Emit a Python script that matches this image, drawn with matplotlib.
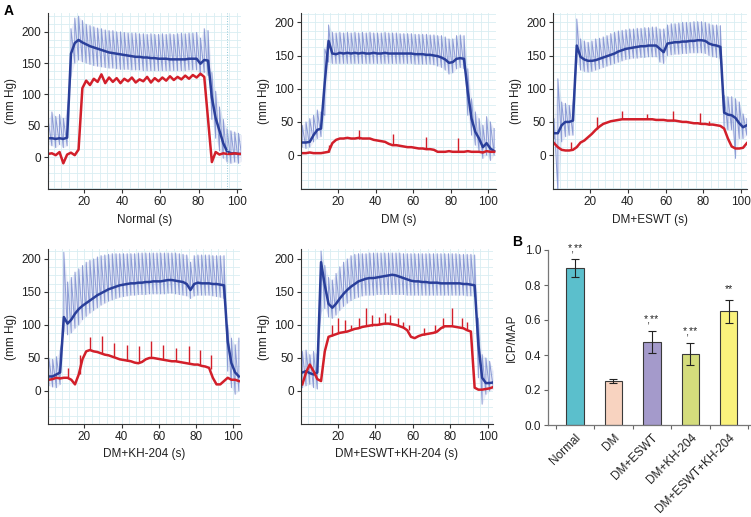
import numpy as np
import matplotlib
matplotlib.use("Agg")
import matplotlib.pyplot as plt
from matplotlib.ticker import MultipleLocator

plt.rcParams['font.family'] = ['Liberation Sans', 'DejaVu Sans']
plt.rcParams['font.size'] = 8.5

# ---------------- data ----------------
T = [1, 3, 5, 7, 9, 11, 13, 15, 17, 19, 21, 23, 25, 27, 29, 31, 33, 35, 37, 39,
     41, 43, 45, 47, 49, 51, 53, 55, 57, 59, 61, 63, 65, 67, 69, 71, 73, 75, 77, 79,
     81, 83, 85, 87, 89, 91, 93, 95, 97, 99, 101, 103]

# Normal
normal_map = [30, 30, 29, 30, 29, 31, 165, 182, 187, 183, 180, 177, 175, 173, 171, 169, 167, 166, 165, 164,
              163, 162, 161, 160, 160, 159, 159, 158, 158, 157, 157, 157, 156, 156, 156, 156, 156, 157, 157, 157,
              149, 155, 154, 95, 62, 42, 22, 9, 6, 6, 5, 5]
normal_hi = [60, 72, 65, 68, 62, 72, 205, 222, 225, 218, 212, 210, 208, 206, 205, 203, 202, 202, 200, 200,
             199, 198, 198, 198, 197, 197, 196, 197, 196, 196, 197, 196, 197, 196, 197, 198, 197, 198, 198, 199,
             190, 205, 202, 135, 105, 80, 60, 45, 42, 40, 38, 35]
normal_lo = [20, 18, 15, 20, 15, 18, 130, 150, 155, 152, 150, 148, 146, 145, 144, 143, 142, 142, 141, 140,
             140, 140, 139, 139, 139, 138, 138, 138, 138, 138, 138, 138, 138, 138, 138, 138, 138, 139, 139, 139,
             130, 135, 130, 60, 30, 10, -2, -8, -10, -8, -10, -5]
normal_icp = [5, 6, 3, 8, -10, 4, 7, 3, 12, 110, 122, 115, 125, 120, 132, 118, 127, 120, 126, 118,
              125, 121, 127, 119, 124, 121, 128, 119, 126, 121, 127, 122, 129, 123, 128, 124, 130, 125, 131, 127,
              133, 128, 60, -8, 8, 4, 6, 5, 5, 6, 5, 5]
normal_spk_t, normal_spk_top, normal_spk_base = [], [], []

# DM
dm_map = [19, 19, 20, 30, 38, 40, 110, 172, 153, 152, 154, 153, 154, 153, 154, 153, 154, 153, 153, 154,
          153, 153, 154, 153, 153, 153, 153, 153, 153, 153, 152, 152, 152, 151, 151, 150, 149, 147, 144, 139,
          140, 145, 146, 145, 95, 55, 35, 25, 12, 18, 10, 6]
dm_hi = [45, 50, 55, 60, 68, 65, 160, 196, 185, 184, 185, 184, 185, 184, 185, 184, 185, 184, 185, 184,
         184, 184, 185, 184, 184, 184, 183, 183, 183, 183, 182, 182, 182, 182, 181, 181, 180, 180, 178, 175,
         175, 180, 181, 180, 130, 85, 65, 55, 45, 58, 50, 40]
dm_lo = [12, 10, 12, 20, 25, 28, 60, 140, 138, 138, 138, 138, 138, 138, 138, 138, 138, 138, 138, 138,
         138, 138, 138, 138, 138, 138, 138, 138, 138, 138, 137, 137, 137, 137, 137, 136, 134, 132, 128, 122,
         124, 130, 132, 130, 60, 30, 15, 5, -5, 0, -8, 0]
dm_icp = [3, 3, 4, 3, 3, 3, 4, 5, 18, 23, 25, 25, 26, 25, 25, 26, 25, 25, 25, 23,
          22, 21, 20, 17, 15, 15, 14, 13, 12, 12, 11, 10, 10, 9, 9, 8, 5, 5, 5, 6,
          5, 5, 5, 5, 6, 5, 5, 5, 4, 6, 5, 5]
dm_spk_t = [15, 31, 49, 67, 84]
dm_spk_top = [15, 38, 32, 28, 26]
dm_spk_base = [4, 25, 15, 9, 5]

# DM+ESWT
eswt_map = [33, 33, 45, 50, 50, 52, 165, 148, 144, 142, 142, 143, 145, 147, 149, 151, 153, 156, 158, 160,
            161, 162, 163, 164, 164, 165, 165, 165, 160, 155, 168, 169, 170, 170, 171, 171, 172, 172, 173, 173,
            172, 168, 166, 165, 163, 64, 61, 60, 56, 48, 42, 45]
eswt_hi = [55, 115, 80, 78, 75, 77, 205, 175, 172, 170, 172, 175, 176, 178, 180, 183, 185, 187, 188, 189,
           190, 190, 191, 191, 192, 192, 193, 193, 190, 190, 196, 198, 198, 199, 200, 200, 200, 201, 201, 201,
           200, 198, 196, 196, 195, 90, 88, 88, 85, 80, 62, 55]
eswt_lo = [25, -55, 20, 28, 30, 30, 140, 128, 126, 125, 126, 128, 130, 132, 134, 136, 138, 140, 142, 144,
           145, 146, 146, 147, 147, 148, 148, 148, 140, 138, 150, 151, 152, 152, 153, 153, 154, 154, 154, 154,
           153, 150, 148, 147, 145, 40, 38, 38, -5, 25, 25, 30]
eswt_icp = [18, 12, 8, 7, 7, 8, 12, 19, 22, 27, 32, 38, 43, 47, 49, 51, 52, 53, 54, 54,
            54, 54, 54, 54, 54, 54, 54, 53, 53, 53, 52, 52, 52, 51, 50, 50, 49, 48, 48, 47,
            47, 46, 46, 45, 44, 40, 25, 13, 10, 10, 11, 18]
eswt_spk_t = [10, 23.5, 37, 50, 64, 78, 83]
eswt_spk_top = [20, 58, 67, 62, 66, 63, 52]
eswt_spk_base = [8, 40, 54, 54, 52, 47, 46]

# DM+KH-204
kh_map = [22, 22, 25, 28, 112, 102, 108, 117, 124, 129, 133, 137, 141, 145, 148, 151, 154, 156, 158, 160,
          161, 162, 163, 163, 164, 164, 165, 165, 166, 166, 166, 167, 168, 168, 167, 166, 165, 162, 153, 162,
          164, 163, 163, 163, 162, 162, 161, 160, 75, 42, 28, 22]
kh_hi = [50, 48, 52, 60, 210, 165, 172, 180, 185, 190, 195, 198, 200, 203, 205, 206, 207, 208, 208, 208,
         208, 208, 208, 208, 209, 209, 209, 209, 209, 209, 209, 209, 209, 209, 209, 208, 207, 206, 195, 205,
         206, 206, 206, 206, 205, 205, 205, 205, 100, 80, 70, 80]
kh_lo = [8, 6, 5, 10, 90, 85, 88, 95, 100, 108, 113, 118, 122, 126, 130, 133, 136, 138, 140, 142,
         143, 144, 145, 145, 146, 146, 146, 147, 147, 147, 147, 147, 148, 148, 147, 146, 145, 144, 140, 144,
         145, 145, 145, 145, 144, 143, 142, 140, 30, 5, -5, 0]
kh_icp = [17, 18, 20, 19, 20, 20, 17, 10, 25, 48, 60, 62, 60, 59, 57, 55, 54, 52, 50, 48,
          47, 46, 45, 43, 42, 44, 48, 50, 50, 49, 48, 47, 46, 45, 45, 44, 43, 42, 41, 40,
          40, 38, 37, 35, 20, 10, 10, 15, 20, 17, 17, 15]
kh_spk_t = [11, 17.5, 23, 29.5, 36, 43, 49.5, 56, 62.5, 69, 76, 82, 88]
kh_spk_top = [35, 55, 82, 83, 72, 70, 68, 75, 70, 65, 68, 62, 55]
kh_spk_base = [20, 25, 62, 57, 51, 46, 43, 50, 48, 45, 42, 40, 34]

# DM+ESWT+KH-204
comb_map = [28, 30, 27, 25, 28, 195, 160, 132, 126, 132, 140, 147, 153, 158, 162, 166, 168, 170, 171, 171,
            172, 173, 174, 175, 176, 175, 173, 171, 169, 167, 166, 166, 165, 165, 164, 164, 164, 163, 163, 163,
            163, 163, 163, 162, 162, 161, 160, 70, 20, 12, 12, 13]
comb_hi = [60, 62, 55, 60, 55, 212, 190, 172, 168, 178, 188, 195, 200, 205, 207, 208, 208, 208, 209, 209,
           209, 209, 209, 209, 209, 209, 209, 208, 208, 208, 208, 208, 208, 208, 208, 208, 208, 208, 208, 208,
           208, 208, 207, 207, 207, 207, 206, 110, 55, 50, 45, 30]
comb_lo = [5, 8, 10, 5, 3, 120, 125, 112, 110, 115, 122, 128, 133, 137, 140, 142, 144, 145, 145, 145,
           146, 146, 146, 146, 146, 146, 146, 146, 145, 145, 145, 145, 145, 145, 145, 145, 145, 145, 145, 145,
           145, 145, 145, 145, 144, 144, 143, 20, -20, -5, 0, 3]
comb_icp = [10, 28, 40, 30, 18, 15, 60, 82, 84, 86, 88, 89, 90, 92, 94, 95, 97, 98, 99, 100,
            100, 101, 102, 102, 101, 100, 98, 96, 92, 82, 80, 83, 85, 86, 87, 88, 90, 95, 98, 98,
            98, 97, 96, 95, 92, 90, 5, 2, 2, 3, 4, 6]
comb_spk_t = [17, 20, 24, 27, 31, 35, 38, 42, 45, 48, 52, 55, 58, 66, 72, 76, 81, 86, 89]
comb_spk_top = [100, 110, 108, 100, 110, 125, 115, 112, 118, 115, 110, 105, 100, 95, 100, 110, 125, 110, 105]
comb_spk_base = [84, 88, 89, 92, 95, 98, 99, 100, 102, 102, 100, 96, 92, 85, 88, 95, 98, 96, 92]

# Panel B
groups = ['Normal', 'DM', 'DM+ESWT', 'DM+KH-204', 'DM+ESWT+KH-204']
ratio = [0.895, 0.252, 0.475, 0.405, 0.650]
ratio_err = [0.052, 0.012, 0.062, 0.064, 0.065]
stars = ['*,**', '', '*,**', '*,**', '**']
bar_colors = ['#5bbfcc', '#f8d3c0', '#a49acb', '#d4dc7c', '#faf27c']

# ---------------- figure ----------------
W, H = 751, 517
fig = plt.figure(figsize=(W / 100, H / 100), dpi=100)


def px_axes(left, top, right, bottom):
    return fig.add_axes([left / W, 1 - bottom / H, (right - left) / W, (bottom - top) / H])


DARK = '#2a3f9a'
LIGHT = '#8393d2'
RED = '#d21f2a'
GRID = '#d9eef2'


def trace_panel(ax, xlabel, mp, hi, lo, icp, st, stop, sbase, xlim, ylim):
    ax.set_xlim(*xlim)
    ax.set_ylim(*ylim)
    ax.xaxis.set_minor_locator(MultipleLocator(4))
    ax.yaxis.set_minor_locator(MultipleLocator(12.5))
    ax.grid(which='both', color=GRID, lw=0.6)
    ax.set_axisbelow(True)
    t = np.array(T, dtype=float)
    hi = np.array(hi, dtype=float)
    lo = np.array(lo, dtype=float)
    ax.fill_between(t, lo, hi, color=LIGHT, alpha=0.15, lw=0)
    zx = np.repeat(t, 2)
    zy = np.column_stack([lo, hi]).ravel()
    ax.plot(zx, zy, color=LIGHT, lw=0.7, alpha=0.9)
    ax.plot(t, mp, color=DARK, lw=1.8)
    if st:
        ax.vlines(st, sbase, stop, color=RED, lw=1.0)
    ax.plot(t, icp, color=RED, lw=1.8)
    ax.set_xticks([20, 40, 60, 80, 100])
    ax.set_yticks([0, 50, 100, 150, 200])
    ax.tick_params(which='minor', length=0)
    ax.tick_params(which='major', length=3, width=0.8, color='#333333', labelcolor='#222222', labelsize=8.5, pad=2)
    for s in ('top', 'right'):
        ax.spines[s].set_visible(False)
    for s in ('left', 'bottom'):
        ax.spines[s].set_color('#333333')
        ax.spines[s].set_linewidth(0.8)
    ax.set_xlabel(xlabel, fontsize=8.5, color='#222222', labelpad=4)
    ax.set_ylabel('(mm Hg)', fontsize=8.5, color='#222222', labelpad=3)


ax1 = px_axes(48, 13, 241, 189)
trace_panel(ax1, 'Normal (s)', normal_map, normal_hi, normal_lo, normal_icp,
            normal_spk_t, normal_spk_top, normal_spk_base, (0.95, 102.3), (-51, 230))
ax1.axvline(95, color='#8fc7d6', lw=0.7, ls=':')

ax2 = px_axes(301, 13, 496, 189)
trace_panel(ax2, 'DM (s)', dm_map, dm_hi, dm_lo, dm_icp,
            dm_spk_t, dm_spk_top, dm_spk_base, (0.35, 104), (-51, 214))

ax3 = px_axes(553, 13, 747, 189)
trace_panel(ax3, 'DM+ESWT (s)', eswt_map, eswt_hi, eswt_lo, eswt_icp,
            eswt_spk_t, eswt_spk_top, eswt_spk_base, (0.43, 103.1), (-51, 214))

ax4 = px_axes(48, 249, 240, 424)
trace_panel(ax4, 'DM+KH-204 (s)', kh_map, kh_hi, kh_lo, kh_icp,
            kh_spk_t, kh_spk_top, kh_spk_base, (0.5, 103.6), (-50, 215))

ax5 = px_axes(301, 249, 493, 424)
trace_panel(ax5, 'DM+ESWT+KH-204 (s)', comb_map, comb_hi, comb_lo, comb_icp,
            comb_spk_t, comb_spk_top, comb_spk_base, (0.3, 102.8), (-50, 215))

# Panel B
axb = px_axes(548, 250, 750, 425)
x = np.arange(len(groups))
axb.bar(x, ratio, width=0.45, color=bar_colors, edgecolor='#3a3a3a', linewidth=0.8,
        yerr=ratio_err, capsize=3, error_kw=dict(elinewidth=0.8, capthick=0.8, ecolor='#222222'))
for xi, v, e, s in zip(x, ratio, ratio_err, stars):
    if s:
        axb.text(xi, v + e + 0.035, s, ha='center', va='bottom', fontsize=7.5, color='#222222')
axb.set_xlim(-0.7, 4.55)
axb.set_ylim(0, 1.0)
axb.set_yticks([0.0, 0.2, 0.4, 0.6, 0.8, 1.0])
axb.set_yticklabels(['0.0', '0.2', '0.4', '0.6', '0.8', '1.0'])
axb.set_xticks(x)
axb.set_xticklabels(groups, rotation=45, ha='right', rotation_mode='anchor', fontsize=8.5, color='#222222')
axb.set_xticks(np.arange(-0.5, 5.0, 1.0), minor=True)
axb.tick_params(axis='x', which='major', length=0, pad=5)
axb.tick_params(axis='x', which='minor', length=3, width=0.8, color='#666666')
axb.tick_params(axis='y', length=3, width=0.8, color='#666666', labelcolor='#222222', labelsize=8.5, pad=2)
for s in ('top', 'right'):
    axb.spines[s].set_visible(False)
for s in ('left', 'bottom'):
    axb.spines[s].set_color('#777777')
    axb.spines[s].set_linewidth(0.9)
axb.set_ylabel('ICP/MAP', fontsize=8.5, color='#222222', labelpad=5)

fig.text(4 / W, 1 - 11 / H, 'A', fontsize=10, fontweight='bold', va='center', ha='left')
fig.text(512 / W, 1 - 242 / H, 'B', fontsize=10, fontweight='bold', va='center', ha='left')

fig.savefig('out.png', dpi=100)
